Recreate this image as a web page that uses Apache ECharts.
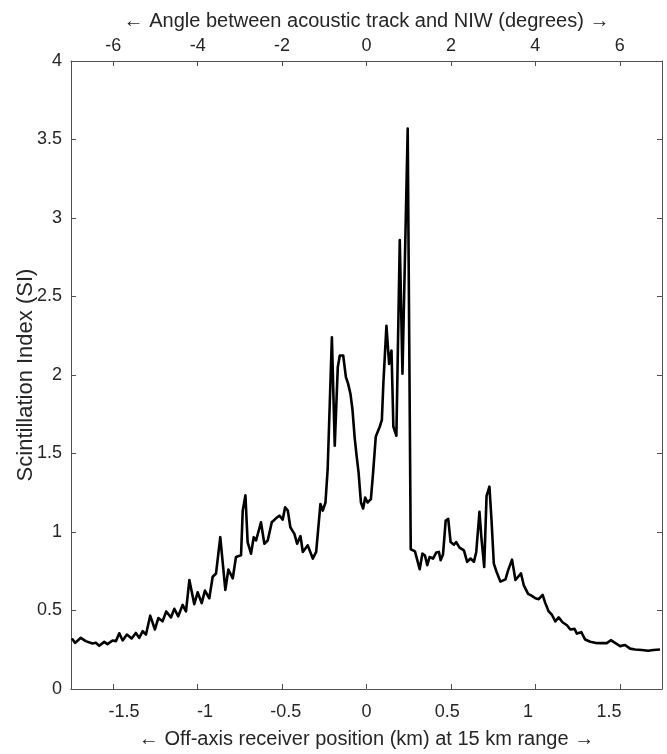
<!DOCTYPE html>
<html>
<head>
<meta charset="utf-8">
<script src="https://cdn.jsdelivr.net/npm/echarts@6/dist/echarts.min.js"></script>
<style>
html,body{margin:0;padding:0;background:#fff;}
#chart{width:667px;height:754px;}
</style>
</head>
<body>
<div id="chart"></div>
<script>
// Off-axis receiver position (km)
const xKm = [
 -1.745,-1.725,-1.692,-1.663,-1.623,-1.603,-1.583,-1.553,-1.534,-1.504,
 -1.484,-1.464,-1.444,-1.419,-1.391,-1.366,-1.346,-1.326,-1.306,-1.281,
 -1.253,-1.233,-1.208,-1.186,-1.158,-1.138,-1.115,-1.089,-1.069,-1.049,
 -1.020,-1.000,-0.976,-0.957,-0.931,-0.911,-0.891,-0.866,-0.836,-0.818,
 -0.792,-0.773,-0.743,-0.733,-0.717,-0.704,-0.684,-0.668,-0.654,-0.625,
 -0.605,-0.585,-0.561,-0.536,-0.516,-0.496,-0.482,-0.466,-0.451,-0.427,
 -0.411,-0.391,-0.377,-0.348,-0.318,-0.298,-0.273,-0.259,-0.243,-0.230,
 -0.205,-0.188,-0.170,-0.158,-0.138,-0.122,-0.109,-0.095,-0.083,-0.070,
 -0.058,-0.047,-0.033,-0.020,-0.008,0.006,0.026,0.039,0.055,0.079,
 0.091,0.100,0.118,0.134,0.148,0.154,0.159,0.177,0.197,0.213,
 0.244,0.262,0.268,0.287,0.315,0.331,0.346,0.360,0.374,0.394,
 0.413,0.429,0.439,0.453,0.469,0.484,0.498,0.518,0.531,0.551,
 0.577,0.596,0.616,0.636,0.650,0.669,0.681,0.697,0.711,0.728,
 0.740,0.754,0.770,0.793,0.823,0.839,0.862,0.882,0.898,0.915,
 0.931,0.957,0.980,1.000,1.020,1.043,1.059,1.079,1.098,1.118,
 1.138,1.161,1.187,1.207,1.232,1.246,1.272,1.295,1.325,1.354,
 1.384,1.423,1.447,1.472,1.502,1.531,1.561,1.591,1.630,1.669,
 1.699,1.738
];
// Scintillation Index (SI)
const siValues = [
 0.322,0.294,0.326,0.305,0.290,0.294,0.275,0.300,0.286,0.309,
 0.305,0.355,0.309,0.347,0.322,0.357,0.326,0.368,0.347,0.467,
 0.379,0.452,0.431,0.494,0.456,0.511,0.463,0.536,0.494,0.694,
 0.540,0.616,0.547,0.627,0.578,0.715,0.736,0.967,0.631,0.761,
 0.705,0.841,0.852,1.136,1.234,0.936,0.862,0.967,0.946,1.062,
 0.925,0.946,1.062,1.087,1.104,1.079,1.157,1.136,1.030,0.988,
 0.925,0.974,0.873,0.915,0.831,0.873,1.178,1.136,1.188,1.400,
 2.240,1.550,2.050,2.124,2.124,1.987,1.945,1.880,1.780,1.600,
 1.480,1.380,1.188,1.150,1.220,1.188,1.209,1.377,1.609,1.672,
 1.714,1.950,2.313,2.071,2.156,1.900,1.672,1.613,2.860,2.008,
 3.569,0.890,0.883,0.877,0.763,0.862,0.850,0.789,0.841,0.831,
 0.869,0.873,0.820,0.856,1.073,1.083,0.936,0.919,0.936,0.900,
 0.883,0.810,0.831,0.810,0.873,1.129,0.957,0.778,1.230,1.289,
 1.083,0.799,0.747,0.684,0.698,0.757,0.824,0.694,0.715,0.736,
 0.662,0.606,0.593,0.578,0.572,0.599,0.547,0.494,0.473,0.431,
 0.456,0.425,0.406,0.379,0.383,0.353,0.362,0.315,0.301,0.294,
 0.292,0.292,0.311,0.294,0.273,0.280,0.257,0.252,0.248,0.244,
 0.248,0.252
];
const bottomTicks = [-1.5,-1,-0.5,0,0.5,1,1.5];
const bottomTickLabels = ['-1.5','-1','-0.5','0','0.5','1','1.5'];
const topTicks = [-6,-4,-2,0,2,4,6];
const topTickLabels = ['-6','-4','-2','0','2','4','6'];

// in the reference the bottom tick labels sit slightly closer to the centre than their ticks
const LABEL_SQUEEZE = 0.957;
const bottomLabelPos = bottomTicks.map(v => +(v * LABEL_SQUEEZE).toFixed(4));

const FONT = "'Liberation Sans', Arial, sans-serif";
const TXT = '#262626';
const AX = '#505050';

const chart = echarts.init(document.getElementById('chart'), null, {renderer:'canvas'});
const lineData = xKm.map((x,i)=>[x, siValues[i]]);

function bottomFmt(v){
  let best = 0, d = Infinity;
  bottomLabelPos.forEach((p,i)=>{ const dd = Math.abs(p - v); if (dd < d){ d = dd; best = i; } });
  return bottomTickLabels[best];
}
function topFmt(v){
  const i = topTicks.indexOf(v);
  return i >= 0 ? topTickLabels[i] : String(v);
}

chart.setOption({
  animation:false,
  backgroundColor:'#ffffff',
  grid:{left:71, right:5, top:61, bottom:59, containLabel:false},
  xAxis:[
    {
      type:'value', position:'bottom', min:-1.75, max:1.75,
      name:'\u2190 Off-axis receiver position (km) at 15 km range \u2192',
      nameLocation:'middle', nameGap:40, nameMoveOverlap:false,
      nameTextStyle:{fontFamily:FONT, fontSize:20, color:TXT},
      axisLine:{show:true, onZero:false, lineStyle:{color:AX, width:1}},
      axisTick:{show:true, inside:true, length:5, customValues:bottomTicks, lineStyle:{color:AX}},
      axisLabel:{show:true, customValues:bottomLabelPos, margin:14, fontFamily:FONT, fontSize:18, color:TXT,
        formatter:bottomFmt},
      splitLine:{show:false}
    },
    {
      type:'value', position:'top', min:-7, max:7,
      name:'\u2190 Angle between acoustic track and NIW (degrees) \u2192',
      nameLocation:'middle', nameGap:30, nameMoveOverlap:false,
      nameTextStyle:{fontFamily:FONT, fontSize:20, color:TXT},
      axisLine:{show:true, onZero:false, lineStyle:{color:AX, width:1}},
      axisTick:{show:true, inside:true, length:5, customValues:topTicks, lineStyle:{color:AX}},
      axisLabel:{show:true, customValues:topTicks, margin:6, fontFamily:FONT, fontSize:18, color:TXT,
        formatter:topFmt},
      splitLine:{show:false}
    }
  ],
  yAxis:[
    {
      type:'value', position:'left', min:0, max:4, interval:0.5,
      name:'Scintillation Index (SI)', nameLocation:'middle', nameGap:34, nameMoveOverlap:false,
      nameTextStyle:{fontFamily:FONT, fontSize:22, color:TXT},
      axisLine:{show:true, onZero:false, lineStyle:{color:AX, width:1}},
      axisTick:{show:true, inside:true, length:5, lineStyle:{color:AX}},
      axisLabel:{show:true, margin:9, fontFamily:FONT, fontSize:18, color:TXT},
      splitLine:{show:false}
    },
    {
      type:'value', position:'right', min:0, max:4, interval:0.5,
      axisLine:{show:true, onZero:false, lineStyle:{color:AX, width:1}},
      axisTick:{show:true, inside:true, length:5, lineStyle:{color:AX}},
      axisLabel:{show:false},
      splitLine:{show:false}
    }
  ],
  series:[{
    type:'line', xAxisIndex:0, yAxisIndex:0,
    data:lineData, showSymbol:false, symbol:'none', smooth:false,
    lineStyle:{color:'#000000', width:2.6, join:'round'},
    clip:true
  }]
});
</script>
</body>
</html>
